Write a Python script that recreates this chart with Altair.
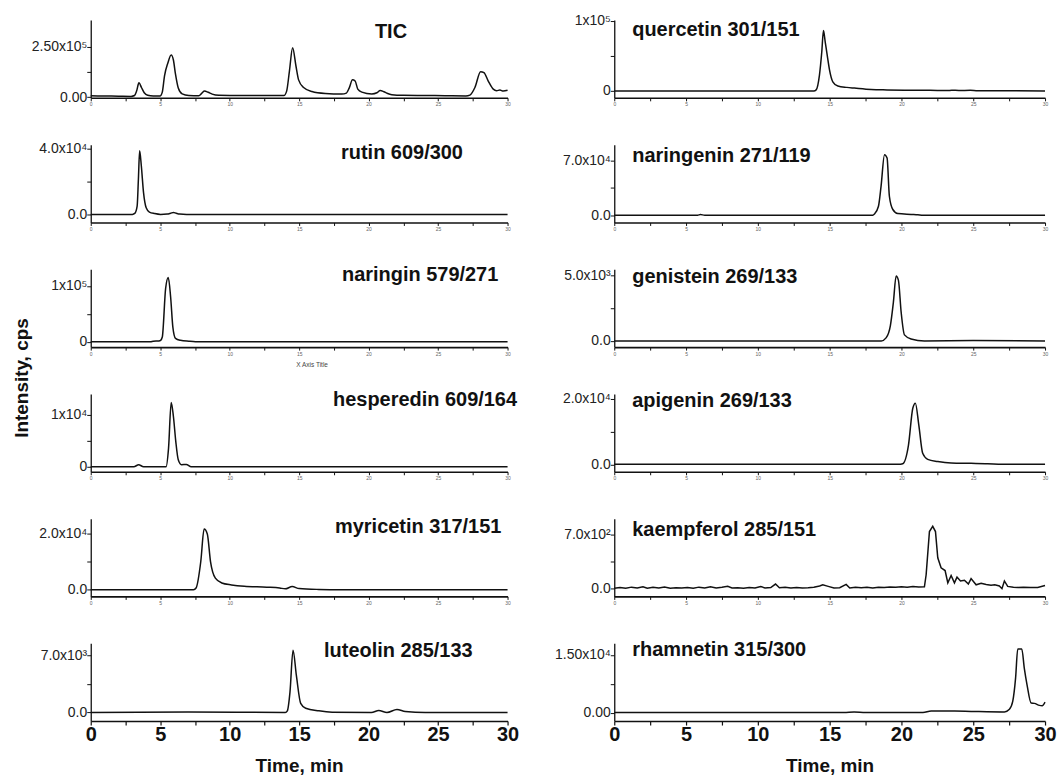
import altair as alt
import pandas as pd

# ---------------- data ----------------
TIC_T = [0, 1, 2, 2.9, 3.15, 3.3, 3.47, 3.65, 3.85, 4.1, 4.5, 5.0, 5.15, 5.31, 5.55, 5.79, 5.95, 6.1, 6.3, 6.58,
         7.06, 7.78, 8.0, 8.19, 8.45, 8.74, 9.22, 10, 11, 12, 13, 13.9, 14.1, 14.3, 14.53, 14.77, 14.96, 15.32,
         15.92, 16.88, 18.07, 18.4, 18.6, 18.84, 19.03, 19.22, 19.51, 20.23, 20.6, 20.83, 21.1, 21.31, 21.67,
         22.5, 24, 25.5, 27.0, 27.29, 27.65, 28.06, 28.3, 28.61, 28.97, 29.21, 29.45, 29.69, 30]
TIC_V = [6500, 5500, 4500, 3500, 8000, 30000, 71000, 48000, 22000, 9000, 5000, 6000, 25000, 106000, 170000,
         210000, 185000, 114000, 45000, 16000, 8000, 7000, 20000, 30000, 24000, 15000, 9000, 8500, 8000, 8000,
         7500, 7500, 30000, 130000, 246000, 155000, 86000, 48000, 28000, 18000, 15000, 20000, 45000, 86000,
         80000, 40000, 25000, 16000, 22000, 33000, 27000, 20000, 12000, 9000, 8000, 7000, 6000, 10000, 48000,
         127000, 122000, 80000, 40000, 32000, 35000, 30000, 34000]

QUER_T = [0, 5, 10, 13.9, 14.06, 14.29, 14.45, 14.57, 14.69, 14.83, 14.99, 15.22, 15.57, 16.2, 16.73, 17.89,
          19.0, 20.21, 22.0, 23.2, 23.5, 24.0, 24.8, 25.3, 27.0, 30]
QUER_V = [0, 0, 0, 0, 1500, 22600, 55000, 86000, 70000, 51000, 30000, 13000, 7000, 5000, 4000, 2000,
          1400, 1000, 800, 400, 900, 600, 800, 200, 100, 0]

RUTIN_T = [0, 2, 3.0, 3.17, 3.34, 3.43, 3.52, 3.64, 3.8, 3.99, 4.22, 4.6, 5.03, 5.5, 5.75, 5.95, 6.15, 6.4,
           6.9, 10, 20, 30]
RUTIN_V = [0, 0, 0, 600, 5000, 21300, 38600, 29500, 13200, 4000, 1400, 500, 0, 200, 700, 1200, 700, 200,
           0, 0, 0, 0]

NARG_T = [0, 5.8, 6.0, 6.3, 18.0, 18.12, 18.4, 18.58, 18.82, 19.0, 19.16, 19.4, 19.74, 20.67, 21.14, 21.5, 30]
NARG_V = [0, 0, 800, 0, 0, 1500, 11500, 37000, 77700, 73300, 24300, 7300, 2100, 1000, 500, 0, 0]

NARI_T = [0, 4.3, 4.5, 4.9, 5.03, 5.15, 5.39, 5.58, 5.75, 5.91, 6.1, 6.46, 7.06, 7.54, 15, 30]
NARI_V = [0, 0, 1000, 1400, 2500, 8300, 95300, 115000, 80000, 26000, 6000, 2500, 800, 0, 0, 0]

GEN_T = [0, 10, 18.6, 18.93, 19.23, 19.44, 19.63, 19.79, 19.98, 20.21, 20.67, 21.6, 25, 30]
GEN_V = [0, 0, 0, 230, 1170, 2960, 4950, 4620, 2190, 460, 150, 0, 30, 0]

HESP_T = [0, 3.1, 3.45, 3.8, 5.42, 5.6, 5.79, 5.95, 6.12, 6.3, 6.53, 6.88, 7.23, 15, 30]
HESP_V = [0, 0, 400, 0, 0, 3600, 12400, 9700, 4900, 1350, 400, 450, 0, 0, 0]

APIG_T = [0, 19.8, 20.09, 20.49, 20.79, 20.97, 21.21, 21.48, 21.83, 22.53, 23.46, 24.85, 26.0, 27, 30]
APIG_V = [0, 0, 200, 5900, 17150, 18700, 12000, 3370, 1530, 860, 400, 300, 200, 0, 0]

MYR_T = [0, 7.4, 7.58, 7.92, 8.16, 8.39, 8.62, 8.97, 9.43, 10.13, 11.05, 12.67, 13.6, 14.0, 14.5, 15.0,
         16.4, 18, 30]
MYR_V = [0, 0, 600, 10000, 21500, 19800, 10000, 4100, 2400, 1700, 1200, 900, 600, 300, 1100, 400,
         100, 0, 0]

KAEM_T = [0.0, 0.4, 0.8, 1.2, 1.6, 2.0, 2.3, 2.7, 3.1, 3.5, 3.9, 4.3, 4.7, 5.1, 5.5, 5.9, 6.3, 6.7, 7.1, 7.5,
          7.9, 8.2, 8.6, 9.0, 9.4, 9.8, 10.2, 10.5, 10.9, 11.23, 11.5, 11.9, 12.3, 12.7, 13.1, 13.5, 13.9,
          14.3, 14.52, 14.9, 15.3, 15.7, 16.15, 16.4, 16.8, 17.2, 17.6, 18.0, 18.4, 18.8, 19.2, 19.6, 20.0,
          20.4, 20.8, 21.2, 21.6, 21.72, 21.95, 22.18, 22.37, 22.53, 22.76, 23.04, 23.23, 23.46, 23.69, 23.87,
          24.11, 24.39, 24.66, 24.85, 25.2, 25.55, 25.9, 26.24, 26.5, 26.82, 27.0, 27.17, 27.4, 27.8, 28.1,
          28.5, 29.0, 29.49, 30.0]
KAEM_V = [5, 15, 5, 20, 8, 25, 5, 18, 10, 22, 6, 12, 8, 15, 5, 20, 8, 25, 10, 18,
          30, 8, 12, 5, 15, 8, 28, 10, 15, 60, 12, 20, 8, 15, 10, 12, 18,
          35, 50, 30, 10, 12, 55, 10, 20, 12, 18, 8, 20, 15, 22, 18, 25,
          20, 28, 22, 25, 180, 740, 807, 740, 400, 270, 235, 75, 170, 75, 150,
          100, 110, 60, 130, 50, 70, 55, 45, 50, 35, 0, 100, 30, 20, 15,
          20, 15, 15, 40]

LUT_T = [0, 7, 14.0, 14.15, 14.34, 14.56, 14.8, 15.11, 15.47, 16.42, 17.38, 20.2, 20.73, 21.32, 22.04, 22.64,
         24.07, 30]
LUT_V = [0, 50, 0, 200, 2500, 7640, 4540, 1120, 520, 200, 40, 0, 240, 0, 360, 120, 0, 0]

RHAM_T = [0, 16.0, 16.7, 17.5, 21.5, 22.07, 23.7, 24.85, 27.17, 27.52, 27.75, 27.95, 28.1, 28.38, 28.56,
          28.75, 29.03, 29.26, 29.61, 29.8, 30]
RHAM_V = [0, 0, 150, 0, 0, 400, 400, 300, 150, 850, 2900, 9000, 16500, 16500, 11400, 7150, 2480, 2390,
          1870, 1800, 2730]

X_TICKS = [0, 2.5, 5, 7.5, 10, 12.5, 15, 17.5, 20, 22.5, 25, 27.5, 30]

# ---------------- styling ----------------
FONT = "Liberation Sans"
INK = "#111111"
LEFT_W, RIGHT_W, H = 418, 432, 78


def panel(name, t, v, width, ydom, yticks, ylabels, title_x, title_base,
          bottom=False, extras=(), interp="monotone"):
    df = pd.DataFrame({"t": t, "v": v})
    if bottom:
        xaxis = alt.Axis(values=X_TICKS,
                         labelExpr="datum.value % 5 === 0 ? format(datum.value, 'd') : ''",
                         labelFontSize=20, labelFontWeight="bold", labelColor=INK, labelFlush=False,
                         tickSize=4, tickWidth=1.2, labelPadding=0, domainWidth=1.6,
                         title="Time, min", titleFontSize=19, titleFontWeight="bold", titleColor=INK,
                         titlePadding=12, grid=False)
    else:
        xaxis = alt.Axis(values=X_TICKS,
                         labelExpr="datum.value % 5 === 0 ? format(datum.value, 'd') : ''",
                         labelFontSize=5, labelColor="#666666", labelFlush=False,
                         tickSize=3, tickWidth=1, labelPadding=1, domainWidth=1.6,
                         title=None, grid=False)
    zl, tl = ylabels
    expr = ("datum.value == 0 ? '%s' : (datum.value == %s ? '%s' : '')"
            % (zl, repr(yticks[-1]), tl))
    yaxis = alt.Axis(values=yticks, labelExpr=expr, labelFontSize=14, labelColor="#222222",
                     labelFlush=False, tickSize=4, tickWidth=1, labelPadding=0,
                     domainWidth=1.3, title=None, grid=False)
    line = alt.Chart(df).mark_line(color=INK, strokeWidth=1.5, interpolate=interp).encode(
        x=alt.X("t:Q", scale=alt.Scale(domain=[0, 30], nice=False, zero=False), axis=xaxis),
        y=alt.Y("v:Q", scale=alt.Scale(domain=ydom, nice=False, zero=False), axis=yaxis),
    )
    label = alt.Chart(pd.DataFrame({"label": [name]})).mark_text(
        align="left", baseline="alphabetic", fontSize=20, fontWeight="bold", font=FONT, color=INK
    ).encode(text="label:N", x=alt.value(title_x), y=alt.value(title_base))
    return alt.layer(line, label, *extras).properties(width=width, height=H)


# extra texts
anchor = alt.Chart(pd.DataFrame({"a": [0]})).mark_square(size=1, opacity=0).encode(
    x=alt.value(-90.5), y=alt.value(-18.5))
y_title = alt.Chart(pd.DataFrame({"label": ["Intensity, cps"]})).mark_text(
    angle=270, align="center", baseline="middle", fontSize=19, fontWeight="bold", font=FONT, color=INK
).encode(text="label:N", x=alt.value(-69), y=alt.value(-16))
x_axis_title = alt.Chart(pd.DataFrame({"label": ["X Axis Title"]})).mark_text(
    align="center", baseline="middle", fontSize=6.5, font=FONT, color="#444444"
).encode(text="label:N", x=alt.value(222), y=alt.value(96))

panels = [
    panel("TIC", TIC_T, TIC_V, LEFT_W, [-3500, 384000], [0, 125000, 250000], ("0.00", "2.50x10⁵"),
          285, 18, extras=(anchor,)),
    panel("quercetin 301/151", QUER_T, QUER_V, RIGHT_W, [-9900, 101000], [0, 50000, 100000], ("0", "1x10⁵"),
          18, 16.3),
    panel("rutin 609/300", RUTIN_T, RUTIN_V, LEFT_W, [-4900, 42300], [0, 20000, 40000], ("0.0", "4.0x10⁴"),
          251, 14.3),
    panel("naringenin 271/119", NARG_T, NARG_V, RIGHT_W, [-9340, 90500], [0, 35000, 70000],
          ("0.0", "7.0x10⁴"), 18, 17.7),
    panel("naringin 579/271", NARI_T, NARI_V, LEFT_W, [-9700, 129500], [0, 50000, 100000], ("0", "1x10⁵"),
          252, 11.7, extras=(x_axis_title,)),
    panel("genistein 269/133", GEN_T, GEN_V, RIGHT_W, [-475, 5460], [0, 2500, 5000], ("0.0", "5.0x10³"),
          18, 13.6),
    panel("hesperedin 609/164", HESP_T, HESP_V, LEFT_W, [-960, 14040], [0, 5000, 10000], ("0", "1x10⁴"),
          243, 12, extras=(y_title,)),
    panel("apigenin 269/133", APIG_T, APIG_V, RIGHT_W, [-2270, 21530], [0, 10000, 20000],
          ("0.0", "2.0x10⁴"), 18, 12.6),
    panel("myricetin 317/151", MYR_T, MYR_V, LEFT_W, [-2380, 25220], [0, 10000, 20000], ("0.0", "2.0x10⁴"),
          245, 14.6),
    panel("kaempferol 285/151", KAEM_T, KAEM_V, RIGHT_W, [-100, 907], [0, 350, 700], ("0.0", "7.0x10²"),
          18, 17, interp="linear"),
    panel("luteolin 285/133", LUT_T, LUT_V, LEFT_W, [-1050, 8485], [0, 3500, 7000], ("0.0", "7.0x10³"),
          234, 13.6, bottom=True),
    panel("rhamnetin 315/300", RHAM_T, RHAM_V, RIGHT_W, [-2200, 17990], [0, 7500, 15000],
          ("0.00", "1.50x10⁴"), 18, 12.3, bottom=True),
]

chart = alt.ConcatChart(
    concat=panels, columns=2, spacing={"row": 47, "column": 107}, bounds="flush", align="each",
    padding=0, background="white",
).configure_view(stroke=None).configure_axis(
    domainColor=INK, tickColor=INK, labelFont=FONT, titleFont=FONT,
)

chart.save("out.html", embed_options={"renderer": "svg", "actions": False})
